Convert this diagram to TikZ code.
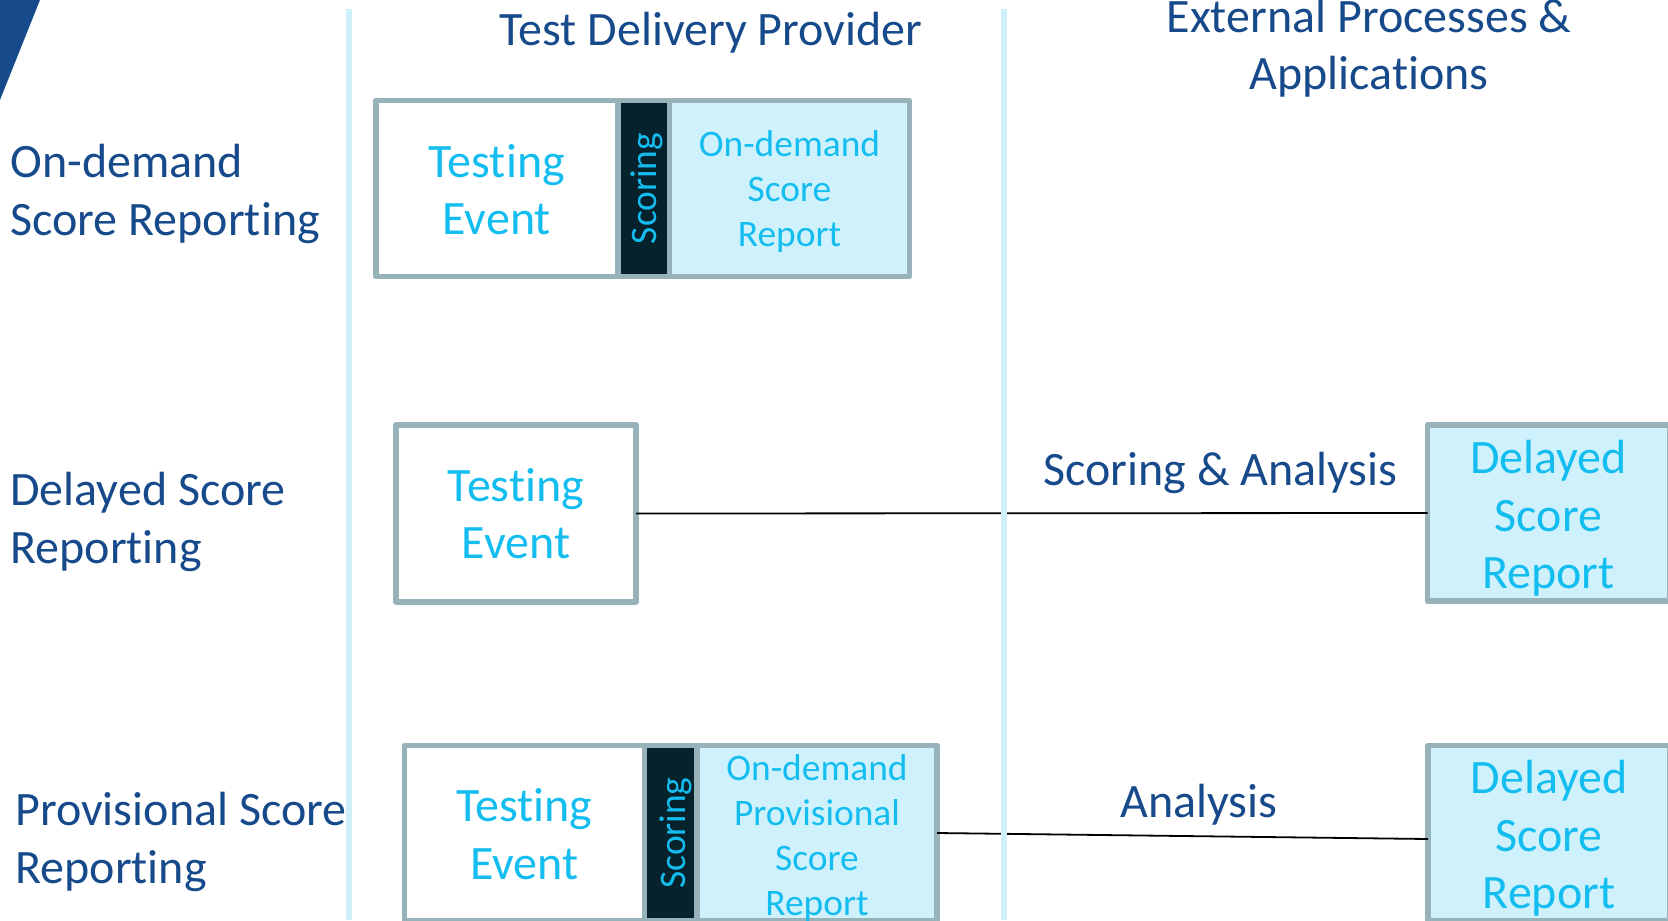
\documentclass[tikz,border=0pt]{standalone}
\usepackage{fontspec}
\setmainfont[RawFeature={-liga;-clig}]{Carlito}
\definecolor{navy}{HTML}{174A8B}
\definecolor{cyantext}{HTML}{14BDF0}
\definecolor{lightfill}{HTML}{CFF1FC}
\definecolor{rimgray}{HTML}{98B2BA}
\definecolor{darkbar}{HTML}{06222D}
\definecolor{rule}{HTML}{CDEFF9}
\tikzset{
  cell/.style={draw=rimgray,line width=2.9pt,inner sep=0pt,outer sep=0pt,align=center,text=cyantext,
    font=\fontsize{24}{28.7}\selectfont,line join=round},
  whitecell/.style={cell,fill=white},
  reportcell/.style={cell,fill=lightfill},
  barcell/.style={cell,fill=darkbar},
  bigtext/.style={text=cyantext,inner sep=0pt,align=center,font=\fontsize{24}{28.7}\selectfont},
  smalltext/.style={text=cyantext,inner sep=0pt,align=center,font=\fontsize{18.7}{22.5}\selectfont},
  bartext/.style={text=cyantext,rotate=90,inner sep=0pt,font=\fontsize{18.7}{22}\selectfont},
  label/.style={text=navy,inner sep=0pt,font=\fontsize{24}{28.7}\selectfont},
  conn/.style={draw=black,line width=0.9pt},
  divider/.style={draw=rule,line width=3pt}
}
\begin{document}
\begin{tikzpicture}[x=0.5pt,y=-0.5pt]
\clip (0,0) rectangle (1668,920);
\fill[navy] (0,0) -- (40,0) -- (0,100) -- cycle;

% row 1
\node[whitecell,minimum width=120.75pt,minimum height=88pt] (t1) at (496.75,188.5) {};
\node[bigtext] (t1t) at ([yshift=-0.5pt]t1.center) {Testing\\Event};
\node[barcell,minimum width=25.75pt,minimum height=88pt] (s1) at (643.75,188.5) {};
\node[bartext] (s1t) at ([xshift=1.5pt]s1.center) {Scoring};
\node[reportcell,minimum width=120pt,minimum height=88pt] (r1) at (789.5,188.5) {};
\node[smalltext] (r1t) at ([yshift=-1.6pt]r1.center) {On-demand\\Score\\Report};

% row 2
\node[whitecell,minimum width=120pt,minimum height=88.5pt] (t2) at (516,513.5) {};
\node[bigtext] (t2t) at (t2.center) {Testing\\Event};
\node[reportcell,minimum width=121pt,minimum height=88pt] (r2) at (1548.5,513) {};
\node[bigtext] (r2t) at ([yshift=-2.6pt]r2.center) {Delayed\\Score\\Report};
\draw[conn] (t2.east) -- (r2.west);

% row 3
\node[whitecell,minimum width=120pt,minimum height=87.5pt] (t3) at (524.5,833) {};
\node[bigtext] (t3t) at ([yshift=-0.5pt]t3.center) {Testing\\Event};
\node[barcell,minimum width=26.25pt,minimum height=87.5pt] (s3) at (670.75,833) {};
\node[bartext] (s3t) at ([xshift=2.5pt]s3.center) {Scoring};
\node[reportcell,minimum width=120pt,minimum height=87.5pt] (r3) at (817,833) {};
\node[smalltext] (r3t) at ([yshift=-2.6pt]r3.center) {On-demand\\Provisional\\Score\\Report};
\node[reportcell,minimum width=121pt,minimum height=87.5pt] (r4) at (1549,833) {};
\node[bigtext] (r4t) at ([yshift=-2.6pt]r4.center) {Delayed\\Score\\Report};
\draw[conn] (r3.east) -- ([yshift=-3pt]r4.west);

% column rules
\coordinate (ra) at (349,9);
\coordinate (rb) at (349,920);
\coordinate (rc) at (1004,9);
\coordinate (rd) at (1004,920);
\draw[divider] (ra) -- (rb);
\draw[divider] (rc) -- (rd);

% labels
\node[label,align=left,anchor=west] (l1) at (10,194) {On-demand\\Score Reporting};
\node[label,align=left,anchor=west] (l2) at (10,522) {Delayed Score\\Reporting};
\node[label,align=left,anchor=west] (l3) at (15,842) {Provisional Score\\Reporting};
\node[label,anchor=base] (h1) at (711,46) {Test Delivery Provider};
\node[label,align=center] (h2) at (1369,48) {External Processes \&\\Applications};
\node[label,anchor=base west] (c1) at (1043,485) {Scoring \& Analysis};
\node[label,anchor=base west] (c2) at (1120,817) {Analysis};
\end{tikzpicture}
\end{document}
